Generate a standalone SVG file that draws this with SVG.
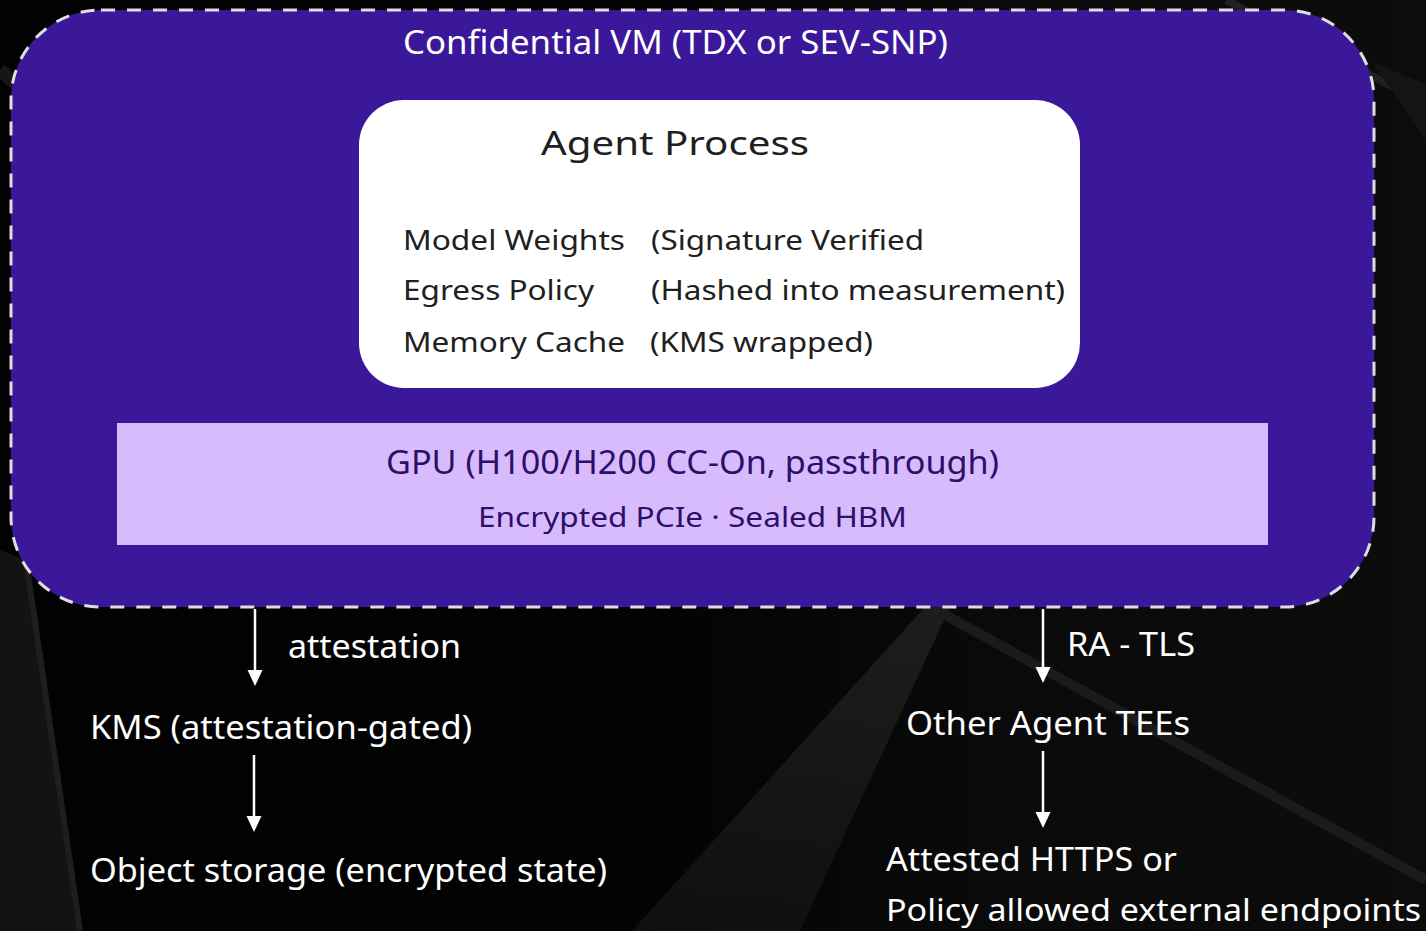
<svg xmlns="http://www.w3.org/2000/svg" width="1426" height="931" viewBox="0 0 1426 931">
  <defs>
    <style>
      .t { font-family: "Noto Sans", "Open Sans", sans-serif; }
      .w { fill: #ffffff; }
      .dk { fill: #202020; }
      .pp { fill: #2c0f68; }
      .conn { stroke: #ffffff; stroke-width: 2.5; fill: none; }
    </style>
    <linearGradient id="bg" x1="0" y1="0" x2="1" y2="0">
      <stop offset="0" stop-color="#020202"/>
      <stop offset="0.45" stop-color="#030303"/>
      <stop offset="0.7" stop-color="#0a0a0a"/>
      <stop offset="1" stop-color="#0c0c0c"/>
    </linearGradient>
    <linearGradient id="wedge" x1="0" y1="0" x2="0" y2="1">
      <stop offset="0" stop-color="#242424"/>
      <stop offset="1" stop-color="#131313"/>
    </linearGradient>
  </defs>

  <!-- background -->
  <g id="background">
    <rect x="0" y="0" width="1426" height="931" fill="url(#bg)"/>
    <polygon points="0,550 26,560 80,931 0,931" fill="#131313"/>
    <line x1="26" y1="560" x2="80" y2="931" stroke="#1e1e1e" stroke-width="6"/>
    <line x1="0" y1="70" x2="30" y2="95" stroke="#1c1c1c" stroke-width="14" opacity="0.8"/>
    <polygon points="925,607 950,607 800,931 632,931" fill="url(#wedge)" opacity="0.75"/>
    <line x1="940" y1="612" x2="1426" y2="880" stroke="#1b1b1b" stroke-width="10"/>
    <line x1="1226" y1="0" x2="1426" y2="104" stroke="#202020" stroke-width="8"/>
    <polygon points="1372,62 1426,84 1426,140" fill="#141414"/>
  </g>

  <!-- Confidential VM -->
  <g id="confidential-vm">
    <rect x="11" y="10" width="1363" height="597" rx="90" ry="90" fill="#3b179a" stroke="#dedede" stroke-width="3" stroke-dasharray="14 12"/>
    <text class="t w" x="403" y="54" font-size="32" textLength="545" lengthAdjust="spacingAndGlyphs">Confidential VM (TDX or SEV-SNP)</text>
  </g>

  <!-- Agent Process -->
  <g id="agent-process">
    <rect x="359" y="100" width="721" height="288" rx="45" ry="45" fill="#ffffff"/>
    <text class="t dk" x="541" y="155" font-size="33" textLength="268" lengthAdjust="spacingAndGlyphs">Agent Process</text>
    <text class="t dk" x="403" y="250" font-size="27" textLength="222" lengthAdjust="spacingAndGlyphs">Model Weights</text>
    <text class="t dk" x="651" y="250" font-size="27" textLength="273" lengthAdjust="spacingAndGlyphs">(Signature Verified</text>
    <text class="t dk" x="403" y="300" font-size="27" textLength="191" lengthAdjust="spacingAndGlyphs">Egress Policy</text>
    <text class="t dk" x="651" y="300" font-size="27" textLength="414" lengthAdjust="spacingAndGlyphs">(Hashed into measurement)</text>
    <text class="t dk" x="403" y="352" font-size="27" textLength="222" lengthAdjust="spacingAndGlyphs">Memory Cache</text>
    <text class="t dk" x="650" y="352" font-size="27" textLength="223" lengthAdjust="spacingAndGlyphs">(KMS wrapped)</text>
  </g>

  <!-- GPU -->
  <g id="gpu">
    <rect x="117" y="423" width="1151" height="122" fill="#d8bbfd"/>
    <text class="t pp" x="386" y="474" font-size="32" textLength="613" lengthAdjust="spacingAndGlyphs">GPU (H100/H200 CC-On, passthrough)</text>
    <text class="t pp" x="478" y="527" font-size="27" textLength="429" lengthAdjust="spacingAndGlyphs">Encrypted PCIe · Sealed HBM</text>
  </g>

  <!-- lower nodes -->
  <g id="kms">
    <text class="t w" x="90" y="739" font-size="32" textLength="382" lengthAdjust="spacingAndGlyphs">KMS (attestation-gated)</text>
  </g>
  <g id="object-storage">
    <text class="t w" x="90" y="882" font-size="32" textLength="517" lengthAdjust="spacingAndGlyphs">Object storage (encrypted state)</text>
  </g>
  <g id="other-agent-tees">
    <text class="t w" x="906" y="735" font-size="32" textLength="284" lengthAdjust="spacingAndGlyphs">Other Agent TEEs</text>
  </g>
  <g id="external-endpoints">
    <text class="t w" x="886" y="871" font-size="32" textLength="291" lengthAdjust="spacingAndGlyphs">Attested HTTPS or</text>
    <text class="t w" x="886" y="921" font-size="31" textLength="535" lengthAdjust="spacingAndGlyphs">Policy allowed external endpoints</text>
  </g>

  <!-- connectors -->
  <g id="connectors">
    <line class="conn" x1="255" y1="609" x2="255" y2="670"/>
    <path d="M247.5,670 L262.5,670 L255,686 Z" fill="#ffffff"/>
    <text class="t w" x="288" y="658" font-size="32" textLength="173" lengthAdjust="spacingAndGlyphs">attestation</text>

    <line class="conn" x1="254" y1="755" x2="254" y2="816"/>
    <path d="M246.5,816 L261.5,816 L254,832 Z" fill="#ffffff"/>

    <line class="conn" x1="1043" y1="609" x2="1043" y2="667"/>
    <path d="M1035.5,667 L1050.5,667 L1043,683 Z" fill="#ffffff"/>
    <text class="t w" x="1067" y="656" font-size="32" textLength="128" lengthAdjust="spacingAndGlyphs">RA - TLS</text>

    <line class="conn" x1="1043" y1="751" x2="1043" y2="812"/>
    <path d="M1035.5,812 L1050.5,812 L1043,828 Z" fill="#ffffff"/>
  </g>
</svg>
